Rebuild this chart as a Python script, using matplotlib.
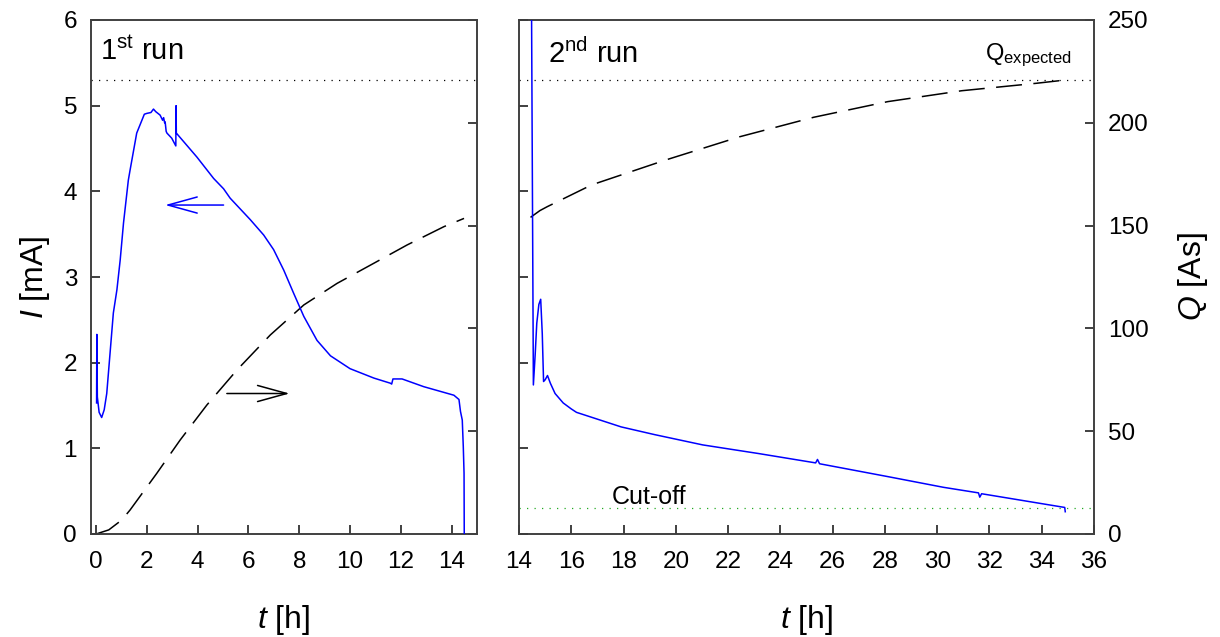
import matplotlib
matplotlib.use("Agg")
import matplotlib.pyplot as plt

plt.rcParams['font.family'] = ['Liberation Sans', 'DejaVu Sans']
plt.rcParams['mathtext.fontset'] = 'custom'
plt.rcParams['mathtext.rm'] = 'Liberation Sans'
plt.rcParams['mathtext.it'] = 'Liberation Sans:italic'

# ---- data: 1st run ----
t1_I = [0.02, 0.03, 0.05, 0.12, 0.22, 0.32, 0.42, 0.55, 0.68, 0.82, 0.95, 1.08, 1.27,
        1.34, 1.6, 1.9, 2.0, 2.16, 2.26, 2.35, 2.52, 2.62, 2.66, 2.70, 2.72, 2.76, 2.79,
        2.98, 3.14, 3.15, 3.16, 3.97, 4.63, 5.02, 5.28, 6.07, 6.6, 6.99, 7.39, 7.78,
        8.18, 8.7, 9.23, 10.0, 10.94, 11.59, 11.64, 11.69, 12.05, 12.9, 14.09, 14.29,
        14.35, 14.42, 14.46, 14.49, 14.5]
I1 = [1.53, 2.33, 1.60, 1.42, 1.36, 1.45, 1.64, 2.11, 2.58, 2.85, 3.20, 3.63, 4.13,
      4.25, 4.68, 4.90, 4.91, 4.92, 4.96, 4.93, 4.89, 4.83, 4.86, 4.80, 4.81, 4.70, 4.68,
      4.62, 4.53, 5.00, 4.68, 4.40, 4.15, 4.03, 3.92, 3.67, 3.49, 3.32, 3.08, 2.81,
      2.54, 2.26, 2.08, 1.93, 1.82, 1.76, 1.75, 1.81, 1.81, 1.72, 1.62, 1.57,
      1.43, 1.33, 1.02, 0.71, -0.2]
t1_Q = [0.0, 0.5, 1.01, 1.34, 2.39, 3.31, 4.36, 5.55, 6.86, 8.18, 9.49, 10.94, 12.25, 13.7, 14.49]
Q1 = [0.0, 2.0, 6.8, 11.7, 29.5, 45.7, 62.7, 79.8, 96.8, 111.4, 121.9, 131.7, 140.6, 149.5, 153.5]

# ---- data: 2nd run ----
t2_I = [14.45, 14.55, 14.62, 14.68, 14.76, 14.83, 14.89, 14.94, 15.0, 15.09, 15.2, 15.38,
        15.69, 16.0, 16.2, 17.91, 19.19, 21.03, 22.3, 23.15, 25.35, 25.42, 25.5, 28.11,
        30.24, 31.58, 31.63, 31.7, 33.49, 34.88, 34.9]
I2 = [8.0, 1.74, 2.10, 2.46, 2.68, 2.74, 2.34, 1.78, 1.80, 1.85, 1.76, 1.64,
      1.53, 1.46, 1.42, 1.25, 1.16, 1.04, 0.98, 0.94, 0.83, 0.87, 0.82, 0.67,
      0.545, 0.48, 0.43, 0.47, 0.38, 0.31, 0.26]
t2_Q = [14.44, 14.8, 15.08, 16.78, 19.61, 22.44, 25.28, 28.11, 30.94, 33.78, 34.9]
Q2 = [154.0, 157.3, 159.2, 169.8, 181.9, 193.2, 202.7, 210.3, 215.6, 219.2, 220.8]

Q_expected = 221
I_cutoff = 0.3

I_ticks = [0, 1, 2, 3, 4, 5, 6]
Q_ticks = [0, 50, 100, 150, 200, 250]
t1_ticks = [0, 2, 4, 6, 8, 10, 12, 14]
t2_ticks = [14, 16, 18, 20, 22, 24, 26, 28, 30, 32, 34, 36]

W, H = 1220, 637
fig = plt.figure(figsize=(W / 100, H / 100), dpi=100)

def frame(ax):
    for s in ax.spines.values():
        s.set_color('#404040')
        s.set_linewidth(1.2)
    ax.tick_params(direction='in', length=6.7, width=1.2, color='#202020', labelsize=17.5)
    ax.tick_params(axis='y', pad=10)
    ax.tick_params(axis='x', pad=12)

ax1 = fig.add_axes([91 / W, (H - 534) / H, 386 / W, 514 / H])
ax1q = ax1.twinx()
ax2 = fig.add_axes([519 / W, (H - 534) / H, 575 / W, 514 / H])
ax2q = ax2.twinx()

for ax in (ax1, ax1q, ax2, ax2q):
    frame(ax)

# left panel
ax1.plot(t1_I, I1, color='#0000ff', lw=1.1, zorder=3)
ax1.set_xlim(-0.2, 15.0)
ax1.set_ylim(0, 6)
ax1.set_xticks(t1_ticks)
ax1.set_yticks(I_ticks)
ax1q.plot(t1_Q, Q1, color='black', lw=1.1, linestyle=(0, (17, 7.5)))
ax1q.axhline(Q_expected, color='black', lw=0.9, linestyle=(0, (1, 5)))
ax1q.set_ylim(0, 250)
ax1q.set_yticks(Q_ticks)
ax1q.tick_params(labelright=False)
ax1.set_zorder(ax1q.get_zorder() + 1)
ax1.patch.set_visible(False)

ax1.set_ylabel(r'$I$ [mA]', fontsize=23, labelpad=8)
ax1.set_xlabel(r'$t$ [h]', fontsize=23, labelpad=22)
ax1.text(0.023, 0.922, r'1$^{\mathrm{st}}$ run', transform=ax1.transAxes, fontsize=21,
         ha='left', va='baseline')

ax1.annotate('', xy=(2.72, 3.84), xytext=(5.02, 3.84),
             arrowprops=dict(arrowstyle='->,head_length=2.1,head_width=0.58',
                             color='#0000ff', lw=1.1, mutation_scale=10,
                             shrinkA=0, shrinkB=0))
ax1.annotate('', xy=(7.62, 1.64), xytext=(5.15, 1.64),
             arrowprops=dict(arrowstyle='->,head_length=2.1,head_width=0.58',
                             color='black', lw=1.1, mutation_scale=10,
                             shrinkA=0, shrinkB=0))

# right panel
ax2.plot(t2_I, I2, color='#0000ff', lw=1.1, zorder=3)
ax2.axhline(I_cutoff, color='#22aa22', lw=0.9, linestyle=(0, (1, 5)))
ax2.set_xlim(14, 36)
ax2.set_ylim(0, 6)
ax2.set_xticks(t2_ticks)
ax2.set_yticks(I_ticks)
ax2.tick_params(labelleft=False)
ax2q.plot(t2_Q, Q2, color='black', lw=1.1, linestyle=(0, (17, 7.5)))
ax2q.axhline(Q_expected, color='black', lw=0.9, linestyle=(0, (1, 5)))
ax2q.set_ylim(0, 250)
ax2q.set_yticks(Q_ticks)
ax2q.set_ylabel(r'$Q$ [As]', fontsize=23, labelpad=20, rotation=90)
ax2.set_zorder(ax2q.get_zorder() + 1)
ax2.patch.set_visible(False)

ax2.set_xlabel(r'$t$ [h]', fontsize=23, labelpad=22)
ax2.text(0.05, 0.916, r'2$^{\mathrm{nd}}$ run', transform=ax2.transAxes, fontsize=21,
         ha='left', va='baseline')
ax2.text(0.962, 0.922, r'Q$_{\mathrm{expected}}$', transform=ax2.transAxes, fontsize=17,
         ha='right', va='baseline')
ax2.text(0.161, 0.058, 'Cut-off', transform=ax2.transAxes, fontsize=18,
         ha='left', va='baseline')

fig.savefig('out.png', dpi=100)
